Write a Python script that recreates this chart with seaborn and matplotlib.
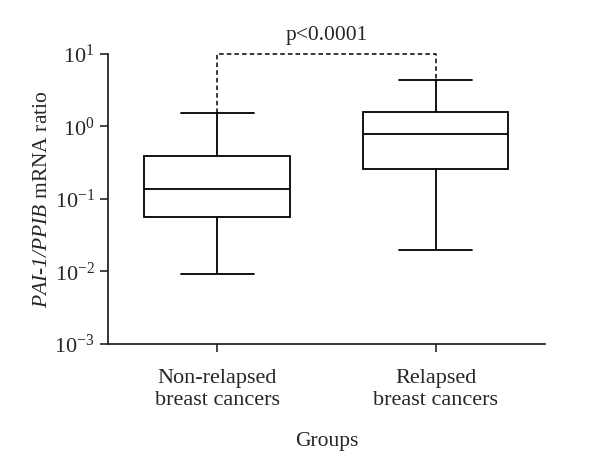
import pandas as pd
import matplotlib
import matplotlib.pyplot as plt
import seaborn as sns

# five-number summaries (min, q1, median, q3, max)
groups = ["Non-relapsed\nbreast cancers", "Relapsed\nbreast cancers"]
non_relapsed = [0.0093, 0.057, 0.135, 0.39, 1.53]
relapsed = [0.0195, 0.255, 0.79, 1.6, 4.4]
p_text = "p<0.0001"
bracket_y = 10

df = pd.DataFrame({
    "Group": [groups[0]] * len(non_relapsed) + [groups[1]] * len(relapsed),
    "Ratio": non_relapsed + relapsed,
})

sns.set_style("ticks")
plt.rcParams["font.family"] = ["Liberation Serif", "DejaVu Serif"]
plt.rcParams["mathtext.fontset"] = "custom"
plt.rcParams["mathtext.rm"] = "Liberation Serif"
plt.rcParams["mathtext.it"] = "Liberation Serif:italic"
# bf slot used for fully italic gene names (digits included)
plt.rcParams["mathtext.bf"] = "Liberation Serif:italic"
plt.rcParams["axes.unicode_minus"] = False

fig = plt.figure(figsize=(6, 4.68), dpi=100)
ax = fig.add_axes([0.18, 0.265, 0.728, 0.62])

sns.boxplot(
    data=df, x="Group", y="Ratio", order=groups, ax=ax,
    whis=(0, 100), width=0.667, color="white", linecolor="black",
    linewidth=1.3, log_scale=True, showfliers=False,
)

ax.set_ylim(1e-3, 1e1)
ax.set_xlim(-0.5, 1.5)
ax.yaxis.set_major_locator(matplotlib.ticker.LogLocator(base=10, numticks=10))
ax.yaxis.set_minor_locator(matplotlib.ticker.NullLocator())

# significance bracket
tops = [max(non_relapsed), max(relapsed)]
ax.plot([0, 0, 1, 1], [tops[0], bracket_y, bracket_y, tops[1]],
        color="black", lw=1.1, ls=(0, (3, 2)), clip_on=False)
ax.text(0.5, bracket_y * 1.32, p_text, ha="center", va="bottom", fontsize=15.5)

ax.set_xlabel("Groups", fontsize=15.5, labelpad=16)
ax.set_ylabel(r"$\mathbf{PAI}$-$\mathbf{1/PPIB}$ mRNA ratio", fontsize=15.5, labelpad=2)
ax.tick_params(axis="both", labelsize=16, direction="out", length=6, width=1.2)
ax.tick_params(axis="x", pad=12)

sns.despine(ax=ax)
for s in ["left", "bottom"]:
    ax.spines[s].set_linewidth(1.3)

fig.savefig("out.png", dpi=100, facecolor="white")
